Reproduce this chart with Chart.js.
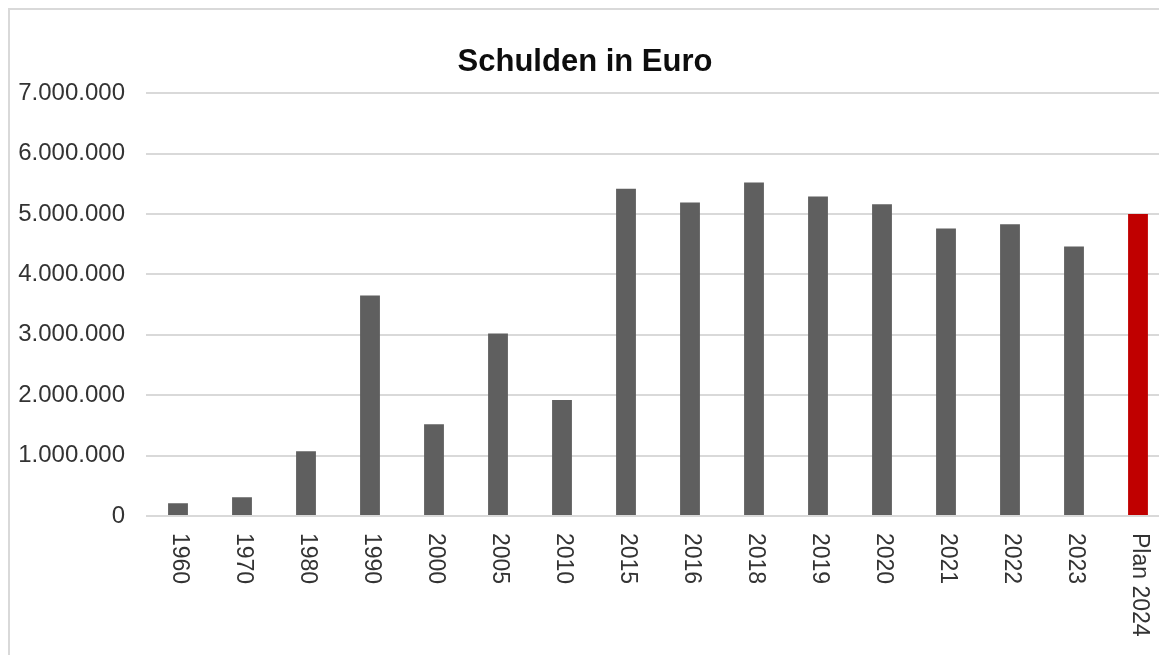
<!DOCTYPE html>
<html lang="de">
<head>
<meta charset="utf-8">
<title>Schulden in Euro</title>
<script src="https://cdn.jsdelivr.net/npm/chart.js@4/dist/chart.umd.min.js"></script>
<style>
  html, body { margin: 0; padding: 0; overflow: hidden; background: #fff; }
  body { width: 1159px; height: 655px; position: relative; }
  #frame {
    position: absolute; left: 8px; top: 8px; width: 1200px; height: 700px;
    border-left: 2px solid #d9d9d9; border-top: 2px solid #d9d9d9;
  }
  #wrap { position: absolute; left: 0; top: 0; width: 1180px; height: 660px; }
</style>
</head>
<body>
<div id="frame"></div>
<div id="wrap"><canvas id="chart1"></canvas></div>
<script>
// data
var labels = ["1960", "1970", "1980", "1990", "2000", "2005", "2010", "2015",
              "2016", "2018", "2019", "2020", "2021", "2022", "2023", "Plan 2024"];
var schulden = [210000, 310000, 1070000, 3650000, 1520000, 3020000, 1920000, 5420000,
                5190000, 5520000, 5290000, 5160000, 4760000, 4830000, 4460000, 5000000];
var barColors = ["#5f5f5f", "#5f5f5f", "#5f5f5f", "#5f5f5f", "#5f5f5f", "#5f5f5f",
                 "#5f5f5f", "#5f5f5f", "#5f5f5f", "#5f5f5f", "#5f5f5f", "#5f5f5f",
                 "#5f5f5f", "#5f5f5f", "#5f5f5f", "#c00000"];
var yMax = 7000000;
var yStep = 1000000;

// x labels read top to bottom, chart.js only rotates the other way -> draw them here
var rotatedLabels = {
  id: "rotatedLabels",
  afterDraw: function (chart) {
    var ctx = chart.ctx;
    var xs = chart.scales.x;
    ctx.save();
    ctx.font = "23px 'Liberation Sans', Arial, sans-serif";
    ctx.fillStyle = "#333333";
    ctx.textAlign = "left";
    ctx.textBaseline = "middle";
    chart.data.labels.forEach(function (lab, i) {
      var x = xs.getPixelForValue(i);
      ctx.save();
      ctx.translate(x + 1, xs.top + 17);
      ctx.rotate(Math.PI / 2);
      ctx.fillText(lab, 0, 0);
      ctx.restore();
    });
    ctx.restore();
  }
};

new Chart(document.getElementById("chart1"), {
  type: "bar",
  data: {
    labels: labels,
    datasets: [{
      data: schulden,
      backgroundColor: barColors,
      barPercentage: 0.31,
      categoryPercentage: 1
    }]
  },
  plugins: [rotatedLabels],
  options: {
    responsive: true,
    maintainAspectRatio: false,
    animation: false,
    layout: { padding: { top: 0, right: 10, bottom: 0, left: 0 } },
    plugins: {
      legend: { display: false },
      tooltip: { enabled: false },
      title: {
        display: true,
        text: "Schulden in Euro",
        color: "#0d0d0d",
        font: { family: "'Liberation Sans', Arial, sans-serif", size: 31, weight: "bold" },
        padding: { top: 44, bottom: 12 }
      }
    },
    scales: {
      x: {
        grid: { display: false, drawTicks: false },
        border: { display: false },
        ticks: { display: false },
        afterFit: function (scale) { scale.height = 144; }
      },
      y: {
        min: 0,
        max: yMax,
        grid: { color: "#d9d9d9", lineWidth: 2, drawTicks: false },
        border: { display: false },
        ticks: {
          stepSize: yStep,
          padding: 21,
          color: "#333333",
          font: { family: "'Liberation Sans', Arial, sans-serif", size: 24 },
          callback: function (v) {
            return v.toString().replace(/\B(?=(\d{3})+(?!\d))/g, ".");
          }
        },
        afterFit: function (scale) { scale.width = 146; }
      }
    }
  }
});
</script>
</body>
</html>
